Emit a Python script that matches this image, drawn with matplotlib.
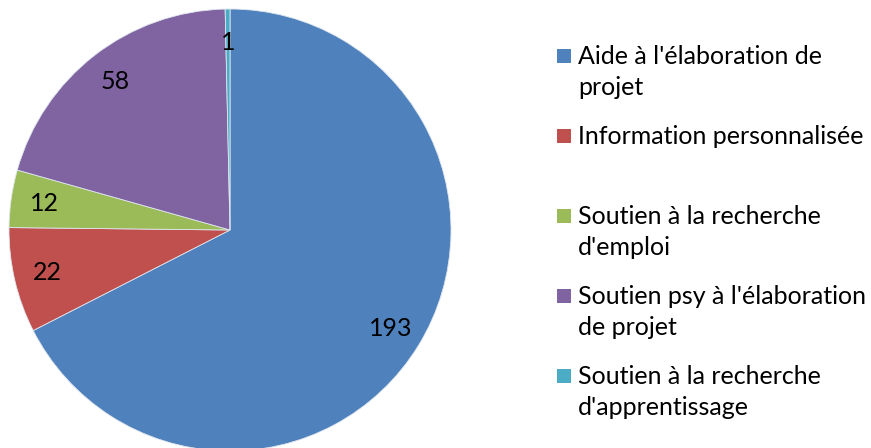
import matplotlib.pyplot as plt
from matplotlib.patches import Rectangle

labels = ["Aide à l'élaboration de\nprojet",
          "Information personnalisée",
          "Soutien à la recherche\nd'emploi",
          "Soutien psy à l'élaboration\nde projet",
          "Soutien à la recherche\nd'apprentissage"]
values = [193, 22, 12, 58, 1]
colors = ['#4F81BD', '#C0504D', '#9BBB59', '#8064A2', '#4BACC6']

plt.rcParams['font.family'] = ['Lato', 'DejaVu Sans']

fig = plt.figure(figsize=(8.71, 4.48), dpi=100)
# pie centre ~ (230, 230) px, radius ~ 221 px
ax = fig.add_axes([9/871, (448 - 451)/448, 442/871, 442/448])
wedges, texts = ax.pie(values, colors=colors, startangle=90, counterclock=False,
                       labels=[str(v) for v in values], labeldistance=0.85,
                       wedgeprops=dict(edgecolor='#dfe6ee', linewidth=0.6),
                       textprops=dict(fontsize=18, color='black'))
for t in texts:
    t.set_horizontalalignment('center')
    t.set_verticalalignment('center')
ax.set_xlim(-1, 1)
ax.set_ylim(-1, 1)
ax.axis('off')

# legend, one slot per entry
y0 = 56
step = 80
for i, lab in enumerate(labels):
    yc = y0 + i * step
    fig.patches.append(Rectangle((557/871, 1 - (yc + 7)/448), 14/871, 14/448,
                                 transform=fig.transFigure, facecolor=colors[i],
                                 edgecolor='none'))
    fig.text(578/871, 1 - (yc - 11)/448, lab, fontsize=18, va='top', ha='left',
             linespacing=1.42)

fig.savefig('out.png', dpi=100)
